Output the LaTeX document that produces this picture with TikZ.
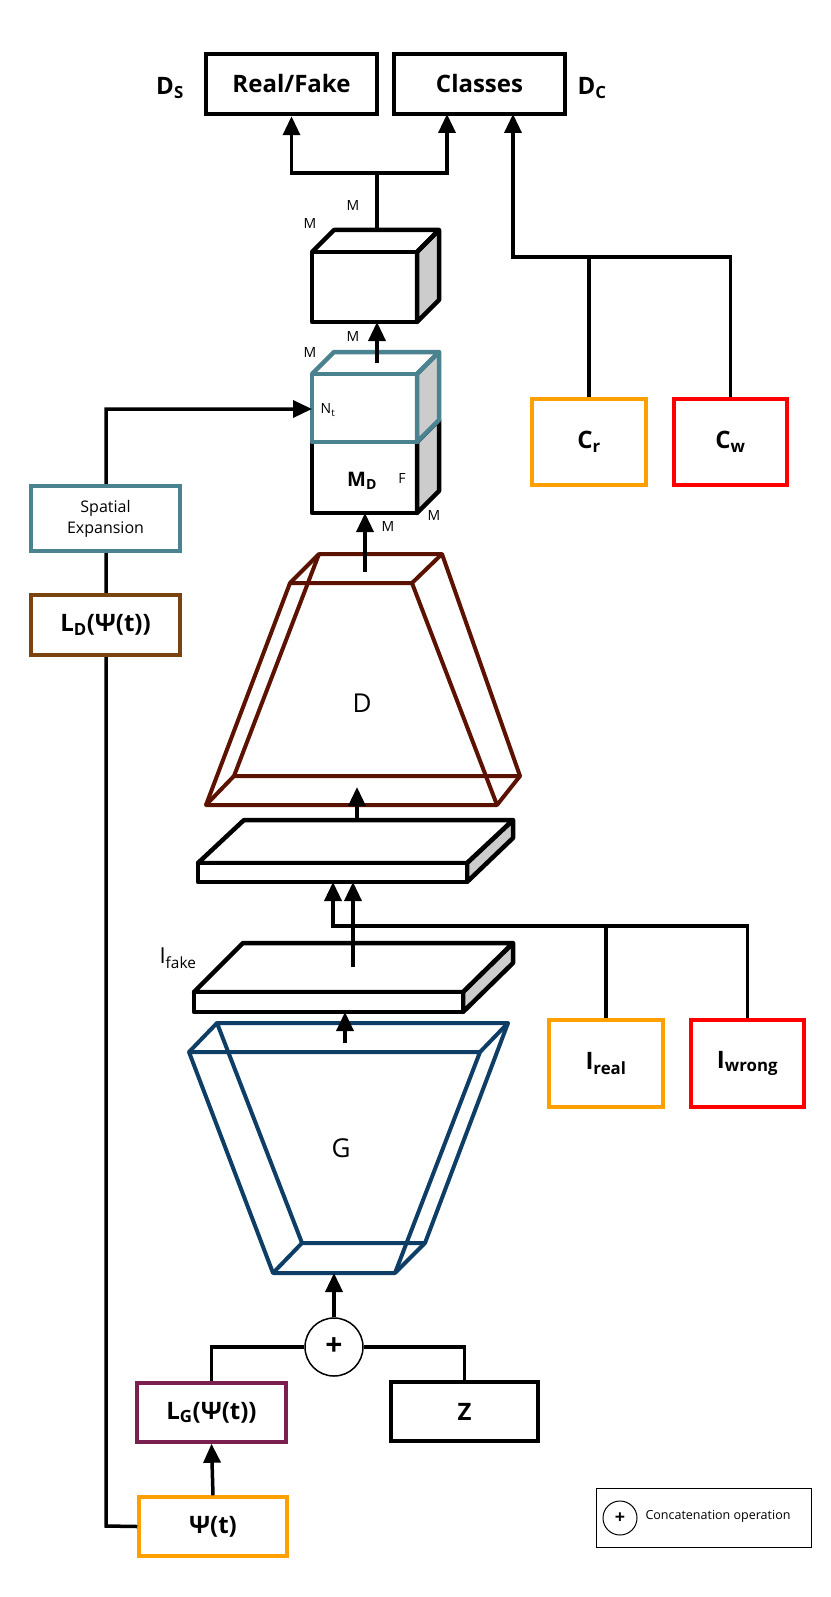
\documentclass[tikz,border=0pt]{standalone}
\usepackage{fontspec}
\setmainfont{Open Sans}
\usetikzlibrary{arrows.meta}
\definecolor{cOr}{HTML}{FFA000}
\definecolor{cRd}{HTML}{FF0000}
\definecolor{cTe}{HTML}{4A8290}
\definecolor{cBr}{HTML}{7A4410}
\definecolor{cDd}{HTML}{5C1200}
\definecolor{cGb}{HTML}{0E3E66}
\definecolor{cLg}{HTML}{7A2050}
\definecolor{cGr}{HTML}{CCCCCC}
\begin{document}
\begin{tikzpicture}[x=1pt,y=-1pt,
  box/.style={draw,line width=4.5pt,fill=white,inner sep=0pt,font=\fontsize{24}{28}\selectfont\bfseries},
  cbox/.style={draw,line width=3.5pt,fill=white,inner sep=0pt,font=\fontsize{24}{28}\selectfont\bfseries},
  ln/.style={line width=3.5pt},
  arr/.style={line width=3.5pt,-{Triangle[length=19pt,width=17pt]}},
  lbl/.style={font=\fontsize{24}{28}\selectfont\bfseries},
  small/.style={font=\fontsize{14}{16}\selectfont},
  cube/.style={line width=4.5pt,line join=round},
  trap/.style={line width=4pt,line join=round}]
\useasboundingbox (0,0) rectangle (830,1597);
% top boxes
\node[box,minimum width=171pt,minimum height=60pt] (rf) at (291.5,84) {Real/Fake};
\node[box,minimum width=171pt,minimum height=60pt] (cl) at (479.5,84) {Classes};
\node[lbl] (ds) at (170,88) {D\textsubscript{S}};
\node[lbl] (dc) at (592,88) {D\textsubscript{C}};
\node[cbox,draw=cOr,minimum width=114pt,minimum height=86pt] (cr) at (589,442) {C\textsubscript{r}};
\node[cbox,draw=cRd,minimum width=113pt,minimum height=86pt] (cw) at (730.5,442) {C\textsubscript{w}};
% cubes
\begin{scope}[cube]
\filldraw[fill=cGr] (417,252)--(439,230)--(439,300)--(417,322)--cycle;
\draw (312,252)--(334,230)--(439,230)--(417,252);
\draw (312,252) rectangle (417,322);
% MD cube
\filldraw[fill=cGr] (417,442)--(439,420)--(439,491)--(417,513)--cycle;
\draw (312,442) rectangle (417,513);
\end{scope}
\begin{scope}[cube,draw=cTe]
\filldraw[fill=cGr] (417,374)--(439,352)--(439,420)--(417,442)--cycle;
\draw (312,374)--(334,352)--(439,352)--(417,374);
\draw (312,374) rectangle (417,442);
\end{scope}
\node[small] (m1) at (353,206) {M};
\node[small] (m2) at (310,224) {M};
\node[small] (m3) at (353,337) {M};
\node[small] (m4) at (310,353) {M};
\node[small] (nt) at (328,410) {N\textsubscript{t}};
\node[lbl,font=\fontsize{20}{24}\selectfont\bfseries] (md) at (362,481) {M\textsubscript{D}};
\node[small] (ff) at (402,478) {F};
\node[small] (m5) at (388,526) {M};
\node[small] (m6) at (434,515) {M};
\coordinate (cubetop) at (377,230);
\coordinate (j1) at (377,173);
\coordinate (cl1) at (447,114);
\coordinate (cl2) at (513,114);
\coordinate (j2) at (513,257);
\draw[ln] (cubetop)--(j1);
\draw[arr] (j1) -| (rf.south);
\draw[arr] (j1) -| (cl1);
\draw[ln] (cr.north) -- (cr.north |- j2);
\draw[arr] (cw.north) |- (j2) -- (cl2);
\coordinate (a1) at (377,363); \coordinate (a1e) at (377,322);
\draw[arr] (a1)--(a1e);
% left column
\node[cbox,draw=cTe,minimum width=149pt,minimum height=65pt,align=center,font=\fontsize{16}{21}\selectfont] (sp) at (105.5,518.5) {Spatial\\Expansion};
\node[cbox,draw=cBr,minimum width=149pt,minimum height=60pt] (ld) at (105.5,625) {L\textsubscript{D}(Ψ(t))};
\node[cbox,draw=cLg,minimum width=149pt,minimum height=59pt] (lg) at (211.5,1412.5) {L\textsubscript{G}(Ψ(t))};
\node[box,minimum width=147pt,minimum height=59pt] (zz) at (464.5,1411.5) {Z};
\node[cbox,draw=cOr,minimum width=148pt,minimum height=59pt] (ps) at (213,1526.5) {Ψ(t)};
\coordinate (lc1) at (106,1526); \coordinate (lc2) at (106,409); \coordinate (lc3) at (312,409);
\begin{scope}[on background layer/.style={}]
\end{scope}
% D trapezoid
\begin{scope}[trap,draw=cDd]
\draw (319,554)--(442,554)--(520,776)--(234,776)--cycle;
\draw (290,583)--(412,583)--(497,805)--(206,805)--cycle;
\draw (290,583)--(319,554) (412,583)--(442,554) (206,805)--(234,776) (497,805)--(520,776);
\end{scope}
\node[lbl,font=\fontsize{26}{30}\selectfont] (dl) at (362,703) {D};
\coordinate (a2) at (365,572); \coordinate (a2e) at (365,513);
\draw[arr] (a2)--(a2e);
\coordinate (a3) at (357,840); \coordinate (a3e) at (357,787);
\draw[arr] (a3)--(a3e);
% plates
\begin{scope}[cube]
\filldraw[fill=cGr] (467,863)--(513,820)--(513,838)--(467,882)--cycle;
\draw[fill=white] (198,863)--(244,820)--(513,820)--(467,863)--cycle;
\draw[fill=white] (198,863) rectangle (467,882);
\filldraw[fill=cGr] (463,992)--(513,943)--(513,963)--(463,1012)--cycle;
\draw[fill=white] (194,992)--(243,943)--(513,943)--(463,992)--cycle;
\draw[fill=white] (194,992) rectangle (463,1012);
\end{scope}
\node[lbl,font=\fontsize{22}{26}\selectfont] (if) at (178,958) {I\textsubscript{fake}};
\node[cbox,draw=cOr,minimum width=114pt,minimum height=87pt] (ir) at (606,1063.5) {I\textsubscript{real}};
\node[cbox,draw=cRd,minimum width=113pt,minimum height=87pt] (iw) at (747.5,1063.5) {I\textsubscript{wrong}};
\coordinate (j3) at (333,926); \coordinate (p1a) at (333,882); \coordinate (p1b) at (353,882);
\coordinate (p2) at (353,967);
\draw[ln] (ir.north) -- (ir.north |- j3);
\draw[arr] (iw.north) |- (j3) -- (p1a);
\draw[arr] (p2) -- (p1b);
% G trapezoid
\begin{scope}[trap,draw=cGb]
\draw (217,1023)--(508,1023)--(425,1243)--(302,1243)--cycle;
\draw (189,1052)--(480,1052)--(395,1273)--(273,1273)--cycle;
\draw (189,1052)--(217,1023) (480,1052)--(508,1023) (273,1273)--(302,1243) (395,1273)--(425,1243);
\end{scope}
\node[lbl,font=\fontsize{26}{30}\selectfont] (gl) at (341,1148) {G};
\coordinate (a4) at (345,1043); \coordinate (a4e) at (345,1012);
\draw[arr] (a4)--(a4e);
% concat
\node[draw,circle,line width=1.5pt,minimum size=58pt,inner sep=0pt,fill=white,font=\fontsize{30}{30}\selectfont\bfseries] (cc) at (334,1347) {+};
\coordinate (a5e) at (334,1273);
\draw[arr] (cc.north)--(a5e);
\draw[ln] (cc.west) -| (lg.north);
\draw[ln] (cc.east) -| (zz.north);
\draw[arr] (ps.north) -- (lg.south);
% left long connector
\draw[arr] (ps.west) -- (lc1) -- (lc2) -- (lc3);
\node[cbox,draw=cTe,minimum width=149pt,minimum height=65pt,align=center,font=\fontsize{16}{21}\selectfont] at (105.5,518.5) {Spatial\\Expansion};
\node[cbox,draw=cBr,minimum width=149pt,minimum height=60pt] at (105.5,625) {L\textsubscript{D}(Ψ(t))};
% legend
\node[draw,line width=1pt,minimum width=215pt,minimum height=59pt] (lgd) at (703.5,1517.5) {};
\node[draw,circle,line width=1pt,minimum size=34pt,inner sep=0pt,font=\fontsize{18}{18}\selectfont\bfseries] (lc) at (620,1518) {+};
\node[anchor=west,font=\fontsize{12.5}{14}\selectfont] (lt) at (642,1516) {Concatenation operation};
\end{tikzpicture}
\end{document}
